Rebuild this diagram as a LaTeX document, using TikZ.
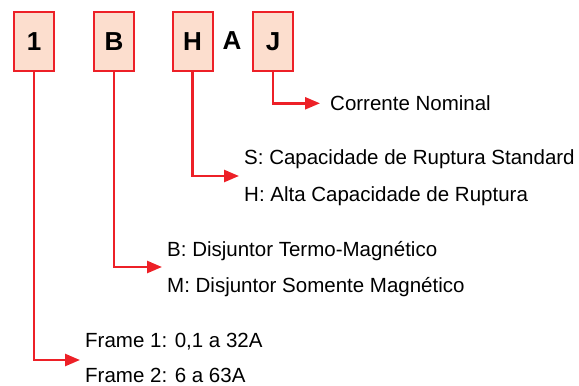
\documentclass[tikz,border=0pt]{standalone}
\usepackage{fontspec}
\setmainfont{Liberation Sans}
\usetikzlibrary{arrows.meta}
\definecolor{gered}{RGB}{237,32,39}
\definecolor{gefill}{RGB}{252,222,206}
\begin{document}
\begin{tikzpicture}[x=1pt,y=-1pt,
  codebox/.style={draw=gered,fill=gefill,line width=2pt,minimum width=40pt,minimum height=59pt,inner sep=0pt,font=\fontsize{26}{26}\selectfont\bfseries},
  codeletter/.style={inner sep=0pt,font=\fontsize{26}{26}\selectfont\bfseries},
  lead/.style={draw=gered,line width=2.5pt,-{Triangle[length=15pt,width=12pt]}},
  desc/.style={anchor=base west,inner sep=0pt,font=\fontsize{20.5}{24}\selectfont}]
\useasboundingbox (0,0) rectangle (579,386);
\node[codebox] (b1) at (34,41.5) {1};
\node[codebox] (bB) at (114,41.5) {B};
\node[codebox] (bH) at (192.5,41.5) {H};
\node[codeletter] (lA) at (232,41) {A};
\node[codebox] (bJ) at (273,41.5) {J};
% texts
\node[desc] (tJ) at (330,110) {Corrente Nominal};
\node[desc] (tS) at (244,164.5) {S: Capacidade de Ruptura Standard};
\node[desc] (tH) at (244,201) {H: Alta Capacidade de Ruptura};
\node[desc] (tB) at (167,256) {B: Disjuntor Termo-Magnético};
\node[desc] (tM) at (167,292.5) {M: Disjuntor Somente Magnético};
\node[desc] (tF1) at (85,347) {Frame 1: 0,1 a 32A};
\node[desc] (tF2) at (85,382.5) {Frame 2: 6 a 63A};
% arrow tips
\coordinate (aJ) at (320,103.3);
\coordinate (aH) at (239,176);
\coordinate (aB) at (162,267);
\coordinate (a1) at (80,360);
\draw[lead] (bJ.south) |- (aJ);
\draw[lead] (bH.south) |- (aH);
\draw[lead] (bB.south) |- (aB);
\draw[lead] (b1.south) |- (a1);
\end{tikzpicture}
\end{document}
